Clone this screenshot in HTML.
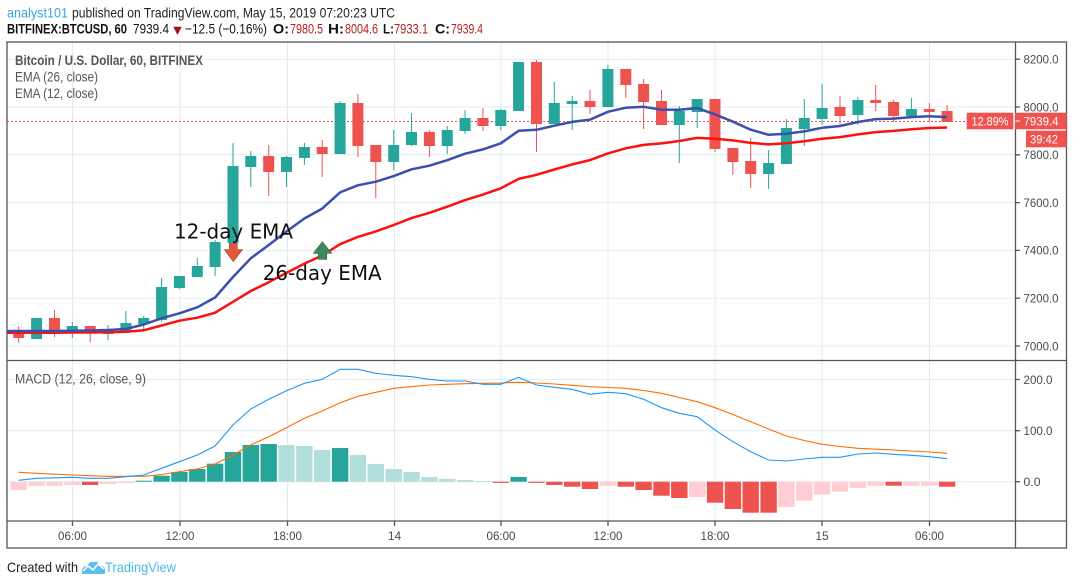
<!DOCTYPE html>
<html><head><meta charset="utf-8"><style>
html,body{margin:0;padding:0;background:#fff;}
svg{display:block;}
text{font-family:"Liberation Sans",sans-serif;}
</style></head><body>
<svg width="1073" height="585" viewBox="0 0 1073 585" xmlns="http://www.w3.org/2000/svg">
<rect width="1073" height="585" fill="#fff"/>
<!-- header -->
<text x="7" y="17.5" font-size="14" fill="#3ba5e0" textLength="61" lengthAdjust="spacingAndGlyphs">analyst101</text>
<text x="72" y="17.5" font-size="14" fill="#222" textLength="323" lengthAdjust="spacingAndGlyphs">published on TradingView.com, May 15, 2019 07:20:23 UTC</text>
<g font-size="14">
<text x="7" y="33.5" font-weight="bold" fill="#111" textLength="120" lengthAdjust="spacingAndGlyphs">BITFINEX:BTCUSD, 60</text>
<text x="133" y="33.5" fill="#111" textLength="36" lengthAdjust="spacingAndGlyphs">7939.4</text>
<polygon points="173.3,26.7 181.7,26.7 177.5,35" fill="#a31515"/>
<text x="185" y="33.5" fill="#111" textLength="82" lengthAdjust="spacingAndGlyphs">−12.5 (−0.16%)</text>
<text x="273" y="33.5" font-weight="bold" fill="#111" textLength="16" lengthAdjust="spacingAndGlyphs">O:</text>
<text x="290" y="33.5" fill="#b71c1c" textLength="33" lengthAdjust="spacingAndGlyphs">7980.5</text>
<text x="328" y="33.5" font-weight="bold" fill="#111" textLength="16" lengthAdjust="spacingAndGlyphs">H:</text>
<text x="345" y="33.5" fill="#b71c1c" textLength="33" lengthAdjust="spacingAndGlyphs">8004.6</text>
<text x="383" y="33.5" font-weight="bold" fill="#111" textLength="11" lengthAdjust="spacingAndGlyphs">L:</text>
<text x="394" y="33.5" fill="#b71c1c" textLength="34" lengthAdjust="spacingAndGlyphs">7933.1</text>
<text x="435" y="33.5" font-weight="bold" fill="#111" textLength="15" lengthAdjust="spacingAndGlyphs">C:</text>
<text x="451" y="33.5" fill="#b71c1c" textLength="32" lengthAdjust="spacingAndGlyphs">7939.4</text>
</g>

<!-- grid -->
<g stroke="#e1ebf1" stroke-width="1">
<path d="M7 59.2H1015M7 107H1015M7 154.8H1015M7 202.6H1015M7 250.4H1015M7 298.2H1015M7 346H1015"/>
<path d="M7 379.5H1015M7 430.7H1015M7 481.7H1015"/>
<path d="M72.5 42V521M180 42V521M287.5 42V521M394.5 42V521M501 42V521M608 42V521M715 42V521M822 42V521M929.5 42V521"/>
</g>

<!-- legends -->
<text x="15" y="65" font-size="13.5" font-weight="bold" fill="#555" textLength="188" lengthAdjust="spacingAndGlyphs">Bitcoin / U.S. Dollar, 60, BITFINEX</text>
<text x="15" y="81.7" font-size="13.5" fill="#555" textLength="83" lengthAdjust="spacingAndGlyphs">EMA (26, close)</text>
<text x="15" y="98" font-size="13.5" fill="#555" textLength="83" lengthAdjust="spacingAndGlyphs">EMA (12, close)</text>
<text x="15" y="383.3" font-size="13.5" fill="#555" textLength="131" lengthAdjust="spacingAndGlyphs">MACD (12, 26, close, 9)</text>

<!-- price line -->
<path d="M7 121.5H966" stroke="#ef5350" stroke-width="1" stroke-dasharray="2,2"/>

<!-- candles: wicks -->
<path stroke="#ef5350" stroke-width="1" fill="none" d="M18.7 326V343M54.5 310V337M90.2 326V342M268.7 145V196M322.2 140V177M357.9 94V157M375.8 145V198M429.4 130V157M482.9 108V131M536.5 60V152M590 90V114M625.8 69V98M643.6 79V129M661.5 90V125M715 99V152M732.9 148V175M750.7 138V188M840 96V124M875.7 85V111M893.6 100V122M929.3 103V122M947.1 105V122"/>
<path stroke="#26a69a" stroke-width="1" fill="none" d="M36.6 318V339M72.3 322V338M108 325V340M125.9 311V333M143.7 316V331M161.6 278V322M179.4 276V289M197.3 258V277M215.1 240V276M233 143V243M250.8 151V187M286.5 156V187M304.4 143V165M340.1 101V154M393.7 130V170M411.5 113V146M447.2 126V154M465.1 110V134M500.8 109V130M518.6 62V111M554.3 82V124M572.2 96V130M607.9 65V107M679.3 106V163M697.2 99V128M768.6 150V189M786.4 119V164M804.3 99V146M822.1 84V125M857.9 97V125M911.4 98V117"/>
<!-- red bodies -->
<g fill="#ef5350">
<rect x="13.2" y="332" width="11" height="6"/>
<rect x="49" y="318" width="11" height="14"/>
<rect x="84.7" y="326" width="11" height="7"/>
<rect x="263.2" y="156" width="11" height="16"/>
<rect x="316.7" y="147" width="11" height="7"/>
<rect x="352.4" y="103" width="11" height="43"/>
<rect x="370.3" y="145" width="11" height="17"/>
<rect x="423.9" y="132" width="11" height="14"/>
<rect x="477.4" y="118" width="11" height="8"/>
<rect x="531" y="62" width="11" height="62"/>
<rect x="584.5" y="101" width="11" height="6"/>
<rect x="620.3" y="69" width="11" height="16"/>
<rect x="638.1" y="84" width="11" height="18"/>
<rect x="656" y="101" width="11" height="24"/>
<rect x="709.5" y="99" width="11" height="50"/>
<rect x="727.4" y="148" width="11" height="14"/>
<rect x="745.2" y="161" width="11" height="13"/>
<rect x="834.5" y="107" width="11" height="9"/>
<rect x="870.2" y="100" width="11" height="3"/>
<rect x="888.1" y="102" width="11" height="14"/>
<rect x="923.8" y="109" width="11" height="3"/>
<rect x="941.6" y="111" width="11" height="11"/>
</g>
<!-- green bodies -->
<g fill="#26a69a">
<rect x="31.1" y="318" width="11" height="21"/>
<rect x="66.8" y="326" width="11" height="6"/>
<rect x="102.5" y="329" width="11" height="5"/>
<rect x="120.4" y="323" width="11" height="8"/>
<rect x="138.2" y="318" width="11" height="6"/>
<rect x="156.1" y="287" width="11" height="33"/>
<rect x="173.9" y="276" width="11" height="12"/>
<rect x="191.8" y="266" width="11" height="11"/>
<rect x="209.6" y="242" width="11" height="25"/>
<rect x="227.5" y="166" width="11" height="77"/>
<rect x="245.3" y="156" width="11" height="11"/>
<rect x="281" y="157" width="11" height="15"/>
<rect x="298.9" y="147" width="11" height="11"/>
<rect x="334.6" y="103" width="11" height="51"/>
<rect x="388.2" y="145" width="11" height="17"/>
<rect x="406" y="132" width="11" height="13"/>
<rect x="441.7" y="130" width="11" height="16"/>
<rect x="459.6" y="118" width="11" height="13"/>
<rect x="495.3" y="110" width="11" height="16"/>
<rect x="513.1" y="62" width="11" height="49"/>
<rect x="548.8" y="103" width="11" height="21"/>
<rect x="566.7" y="101" width="11" height="3"/>
<rect x="602.4" y="69" width="11" height="38"/>
<rect x="673.8" y="111" width="11" height="14"/>
<rect x="691.7" y="99" width="11" height="13"/>
<rect x="763.1" y="163" width="11" height="11"/>
<rect x="780.9" y="128" width="11" height="36"/>
<rect x="798.8" y="118" width="11" height="11"/>
<rect x="816.6" y="108" width="11" height="11"/>
<rect x="852.4" y="100" width="11" height="15"/>
<rect x="905.9" y="109" width="11" height="7"/>
</g>

<!-- EMA lines -->
<polyline fill="none" stroke="#ff1010" stroke-width="2.5" stroke-linejoin="round" points="7,332.7 18.7,332.7 36.6,332.7 54.5,332.7 72.3,332.5 90.2,332.5 108,332.3 125.9,331.8 143.7,330.3 161.6,325.5 179.4,320.7 197.3,317.7 215.1,312.7 233,301.8 250.8,291 268.7,282.2 286.5,272.9 304.4,263.6 322.2,255.5 340.1,244.2 357.9,236.9 375.8,231.4 393.7,225 411.5,218.1 429.4,212.8 447.2,206.7 465.1,200.1 482.9,194.6 500.8,188.3 518.6,178.9 536.5,174.8 554.3,169.5 572.2,164.4 590,160.1 607.9,153.4 625.8,148.3 643.6,144.9 661.5,143.4 679.3,141 697.2,137.9 715,138.7 732.9,140.4 750.7,142.9 768.6,144.4 786.4,143.2 804.3,141.3 822.1,138.8 840,137.1 857.9,134.4 875.7,132.1 893.6,130.9 911.4,129.3 929.3,128 947.1,127.5"/>
<polyline fill="none" stroke="#3b4fae" stroke-width="2.5" stroke-linejoin="round" points="7,331 18.7,331 36.6,331 54.5,331 72.3,330.7 90.2,330.5 108,330 125.9,329 143.7,324.5 161.6,318.3 179.4,313.3 197.3,307.3 215.1,297.5 233,277 250.8,258.3 268.7,245 286.5,231.5 304.4,218.5 322.2,208.6 340.1,192.4 357.9,185.3 375.8,181.7 393.7,176.1 411.5,169.3 429.4,165.7 447.2,160.2 465.1,153.7 482.9,149.4 500.8,143.3 518.6,130.8 536.5,129.8 554.3,125.7 572.2,121.9 590,119.6 607.9,111.8 625.8,107.7 643.6,106.8 661.5,109.6 679.3,109.8 697.2,108.1 715,114.4 732.9,121.7 750.7,129.7 768.6,134.8 786.4,133.8 804.3,131.4 822.1,127.8 840,126 857.9,122 875.7,119.1 893.6,118.6 911.4,117.1 929.3,116.3 947.1,117.1"/>

<!-- annotations -->
<text x="174" y="238.5" font-family="DejaVu Sans, sans-serif" font-size="20" fill="#111" textLength="119" lengthAdjust="spacingAndGlyphs" style="font-family:'DejaVu Sans',sans-serif">12-day EMA</text>
<text x="262.7" y="280" font-size="20" fill="#111" textLength="119" lengthAdjust="spacingAndGlyphs" style="font-family:'DejaVu Sans',sans-serif">26-day EMA</text>
<path d="M229.3 243.3H237.3V249.5H242.7L233.3 261.7L224.3 249.5H229.3Z" fill="#e0583d" stroke="#b84530" stroke-width="0.6"/>
<path d="M322.3 241.7L331.7 253.3H326.7V259.3H318.3V253.3H313.3Z" fill="#3c8a5b" stroke="#2e6b46" stroke-width="0.6"/>

<!-- MACD histogram -->
<g fill="#ffcdd2">
<rect x="10.5" y="481.7" width="16.4" height="8.3"/>
<rect x="28.4" y="481.7" width="16.4" height="4"/>
<rect x="46.3" y="481.7" width="16.4" height="4"/>
<rect x="64.1" y="481.7" width="16.4" height="3.3"/>
<rect x="99.8" y="481.7" width="16.4" height="2.3"/>
<rect x="117.7" y="481.7" width="16.4" height="1.3"/>
<rect x="599.7" y="481.7" width="16.4" height="4"/>
<rect x="689" y="481.7" width="16.4" height="15.3"/>
<rect x="778.2" y="481.7" width="16.4" height="25.3"/>
<rect x="796.1" y="481.7" width="16.4" height="19"/>
<rect x="813.9" y="481.7" width="16.4" height="13"/>
<rect x="831.8" y="481.7" width="16.4" height="10"/>
<rect x="849.7" y="481.7" width="16.4" height="6.3"/>
<rect x="867.5" y="481.7" width="16.4" height="4"/>
<rect x="903.2" y="481.7" width="16.4" height="4"/>
<rect x="921.1" y="481.7" width="16.4" height="4"/>
</g>
<g fill="#ef5350">
<rect x="82" y="481.7" width="16.4" height="3.3"/>
<rect x="492.6" y="481.7" width="16.4" height="1.2"/>
<rect x="528.3" y="481.7" width="16.4" height="1.2"/>
<rect x="546.1" y="481.7" width="16.4" height="3.3"/>
<rect x="564" y="481.7" width="16.4" height="5"/>
<rect x="581.8" y="481.7" width="16.4" height="7.3"/>
<rect x="617.6" y="481.7" width="16.4" height="5"/>
<rect x="635.4" y="481.7" width="16.4" height="8.3"/>
<rect x="653.3" y="481.7" width="16.4" height="14"/>
<rect x="671.1" y="481.7" width="16.4" height="16.3"/>
<rect x="706.8" y="481.7" width="16.4" height="21"/>
<rect x="724.7" y="481.7" width="16.4" height="27.3"/>
<rect x="742.5" y="481.7" width="16.4" height="31"/>
<rect x="760.4" y="481.7" width="16.4" height="31"/>
<rect x="885.4" y="481.7" width="16.4" height="4"/>
<rect x="938.9" y="481.7" width="16.4" height="5"/>
</g>
<g fill="#26a69a">
<rect x="135.5" y="480.7" width="16.4" height="1"/>
<rect x="153.4" y="475.7" width="16.4" height="6"/>
<rect x="171.2" y="472" width="16.4" height="9.7"/>
<rect x="189.1" y="469" width="16.4" height="12.7"/>
<rect x="206.9" y="463.7" width="16.4" height="18"/>
<rect x="224.8" y="452" width="16.4" height="29.7"/>
<rect x="242.6" y="445" width="16.4" height="36.7"/>
<rect x="260.5" y="444" width="16.4" height="37.7"/>
<rect x="331.9" y="448" width="16.4" height="33.7"/>
<rect x="510.4" y="477" width="16.4" height="4.7"/>
</g>
<g fill="#b2dfdb">
<rect x="278.3" y="445" width="16.4" height="36.7"/>
<rect x="296.2" y="446" width="16.4" height="35.7"/>
<rect x="314" y="450" width="16.4" height="31.7"/>
<rect x="349.7" y="455" width="16.4" height="26.7"/>
<rect x="367.6" y="464" width="16.4" height="17.7"/>
<rect x="385.5" y="469" width="16.4" height="12.7"/>
<rect x="403.3" y="472" width="16.4" height="9.7"/>
<rect x="421.2" y="477" width="16.4" height="4.7"/>
<rect x="439" y="479" width="16.4" height="2.7"/>
<rect x="456.9" y="480" width="16.4" height="1.7"/>
<rect x="474.7" y="481" width="16.4" height="0.7"/>
</g>

<!-- MACD lines -->
<polyline fill="none" stroke="#ff6d00" stroke-width="1.1" points="18.7,472.3 36.6,473.3 54.5,474.2 72.3,475 90.2,475.7 108,476.3 125.9,476.3 143.7,476.3 161.6,474.5 179.4,471.7 197.3,469 215.1,464 233,455 250.8,445 268.7,436.7 286.5,427.7 304.4,418.3 322.2,411 340.1,402.7 357.9,396.3 375.8,392.3 393.7,388.3 411.5,386.7 429.4,385 447.2,384.3 465.1,383.7 482.9,383.3 500.8,383 518.6,382.3 536.5,383 554.3,384 572.2,385.3 590,386.7 607.9,387.5 625.8,388.3 643.6,390.5 661.5,393.3 679.3,397.5 697.2,401.7 715,407.7 732.9,414.5 750.7,421.7 768.6,429 786.4,436 804.3,440.5 822.1,444.3 840,446.5 857.9,448.3 875.7,449.2 893.6,450 911.4,451 929.3,452 947.1,453.3"/>
<polyline fill="none" stroke="#2196f3" stroke-width="1.1" points="18.7,480.3 36.6,478.3 54.5,477.8 72.3,477.3 90.2,478.3 108,478.3 125.9,476.7 143.7,475 161.6,468.3 179.4,461.7 197.3,455 215.1,446 233,425 250.8,409 268.7,399.3 286.5,390.7 304.4,383.3 322.2,379.3 340.1,369.3 357.9,369.3 375.8,373.3 393.7,375.3 411.5,376.7 429.4,379.3 447.2,381 465.1,381 482.9,384.3 500.8,384.3 518.6,377.3 536.5,385 554.3,387.3 572.2,389.3 590,394.3 607.9,392.3 625.8,393.7 643.6,399.3 661.5,407.7 679.3,413.3 697.2,416.7 715,430 732.9,441.7 750.7,451.7 768.6,460 786.4,461 804.3,459 822.1,457.3 840,457.3 857.9,454 875.7,453 893.6,454.3 911.4,455.3 929.3,456.7 947.1,458.7"/>

<!-- frame -->
<g stroke="#555" stroke-width="1.3" fill="none">
<rect x="7" y="42" width="1059.5" height="506"/>
<path d="M1015.5 42V548M7 360.5H1066.5M7 521H1066.5"/>
<path d="M1015.5 59.2H1020M1015.5 107H1020M1015.5 154.8H1020M1015.5 202.6H1020M1015.5 250.4H1020M1015.5 298.2H1020M1015.5 346H1020M1015.5 379.5H1020M1015.5 430.7H1020M1015.5 481.7H1020"/>
<path d="M72.5 521V526M180 521V526M287.5 521V526M394.5 521V526M501 521V526M608 521V526M715 521V526M822 521V526M929.5 521V526"/>
</g>

<!-- price axis labels -->
<g font-size="12" fill="#4a4a4a">
<text x="1023.5" y="63.5" textLength="35" lengthAdjust="spacingAndGlyphs">8200.0</text>
<text x="1023.5" y="111.3" textLength="35" lengthAdjust="spacingAndGlyphs">8000.0</text>
<text x="1023.5" y="159.1" textLength="35" lengthAdjust="spacingAndGlyphs">7800.0</text>
<text x="1023.5" y="206.9" textLength="35" lengthAdjust="spacingAndGlyphs">7600.0</text>
<text x="1023.5" y="254.7" textLength="35" lengthAdjust="spacingAndGlyphs">7400.0</text>
<text x="1023.5" y="302.5" textLength="35" lengthAdjust="spacingAndGlyphs">7200.0</text>
<text x="1023.5" y="350.3" textLength="35" lengthAdjust="spacingAndGlyphs">7000.0</text>
<text x="1023.5" y="383.8" textLength="29" lengthAdjust="spacingAndGlyphs">200.0</text>
<text x="1023.5" y="435" textLength="29" lengthAdjust="spacingAndGlyphs">100.0</text>
<text x="1023.5" y="486" textLength="17" lengthAdjust="spacingAndGlyphs">0.0</text>
</g>

<!-- price labels -->
<rect x="966.7" y="112.7" width="46.6" height="16.6" fill="#ef5350"/>
<text x="990" y="125.3" font-size="12" fill="#fff" text-anchor="middle" textLength="37" lengthAdjust="spacingAndGlyphs">12.89%</text>
<rect x="1015" y="112.7" width="51.7" height="16.6" fill="#ef5350"/>
<path d="M1015.5 121H1020" stroke="#fff" stroke-width="1"/>
<text x="1023.5" y="125.3" font-size="12" fill="#fff" textLength="35" lengthAdjust="spacingAndGlyphs">7939.4</text>
<rect x="1026" y="130.7" width="40.7" height="16.6" fill="#ef5350"/>
<text x="1030" y="143.3" font-size="12" fill="#fff" textLength="28" lengthAdjust="spacingAndGlyphs">39:42</text>

<!-- time axis labels -->
<g font-size="12" fill="#4a4a4a" text-anchor="middle">
<text x="72.5" y="540" textLength="29" lengthAdjust="spacingAndGlyphs">06:00</text>
<text x="180" y="540" textLength="29" lengthAdjust="spacingAndGlyphs">12:00</text>
<text x="287.5" y="540" textLength="29" lengthAdjust="spacingAndGlyphs">18:00</text>
<text x="394.5" y="540">14</text>
<text x="501" y="540" textLength="29" lengthAdjust="spacingAndGlyphs">06:00</text>
<text x="608" y="540" textLength="29" lengthAdjust="spacingAndGlyphs">12:00</text>
<text x="715" y="540" textLength="29" lengthAdjust="spacingAndGlyphs">18:00</text>
<text x="822" y="540">15</text>
<text x="929.5" y="540" textLength="29" lengthAdjust="spacingAndGlyphs">06:00</text>
</g>

<!-- footer -->
<text x="7" y="572" font-size="14" fill="#222" textLength="71" lengthAdjust="spacingAndGlyphs">Created with</text>
<path d="M82 574L82 570Q83 566 87 566Q89 561 94 562Q98 561 100 565Q105 566 105 570L105 574Z" fill="#5bbfea"/>
<polyline points="83,571 88,566 93,570 98,564 104,569" fill="none" stroke="#fff" stroke-width="1.5"/>
<text x="105" y="572" font-size="14" fill="#4db8e8" textLength="71" lengthAdjust="spacingAndGlyphs">TradingView</text>
</svg>
</body></html>
